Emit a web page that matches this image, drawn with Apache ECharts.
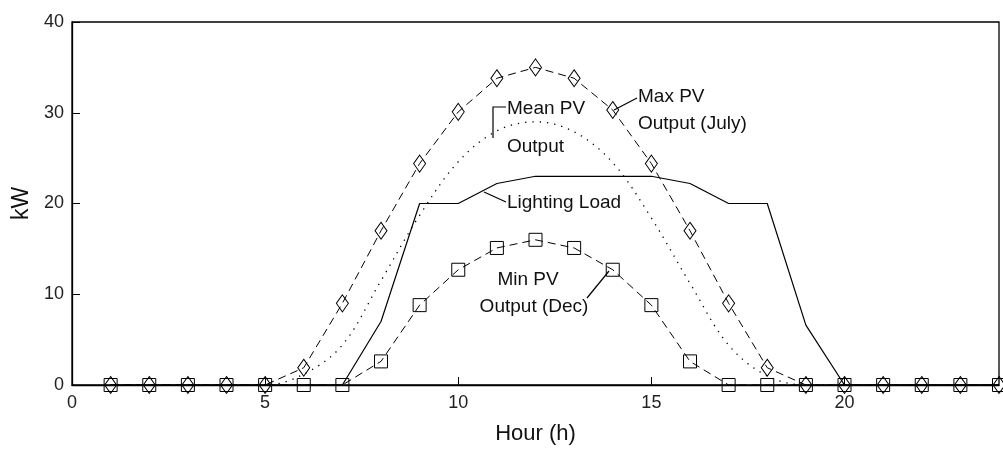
<!DOCTYPE html>
<html>
<head>
<meta charset="utf-8">
<script src="https://cdn.jsdelivr.net/npm/echarts/dist/echarts.min.js"></script>
<style>
html,body{margin:0;padding:0;background:#fff;}
#c{width:1003px;height:450px;}
</style>
</head>
<body>
<div id="c"></div>
<script>
// Hours of the day
var hours = [1,2,3,4,5,6,7,8,9,10,11,12,13,14,15,16,17,18,19,20,21,22,23,24];
// Max PV output (July), kW
var maxPV = [0,0,0,0,0,1.9,9.0,17.0,24.4,30.1,33.8,35.0,33.8,30.3,24.4,17.0,9.0,1.9,0,0,0,0,0,0];
// Mean PV output, kW
var meanPV = [0,0,0,0,0,1.2,4.4,11.5,18.7,24.6,28.0,29.0,27.9,24.5,18.4,11.2,4.4,1.0,0,0,0,0,0,0];
// Lighting load, kW
var lightLoad = [0,0,0,0,0,0,0,7.0,20,20,22.2,23,23,23,23,22.2,20,20,6.6,0,0,0,0,0];
// Min PV output (Dec), kW
var minPV = [0,0,0,0,0,0,0,2.6,8.8,12.7,15.1,16.0,15.1,12.7,8.8,2.6,0,0,0,0,0,0,0,0];
// Axis ticks
var xTicks = [0,5,10,15,20];
var yTicks = [0,10,20,30,40];

function pairs(vals){ return hours.map(function(h,i){ return [h, vals[i]]; }); }

var FONT = '"Liberation Sans", Arial, sans-serif';
var chart = echarts.init(document.getElementById('c'), null, {renderer:'canvas'});

var markerStyle = {color:'rgba(0,0,0,0)', borderColor:'#000', borderWidth:1};

var option = {
  animation:false,
  backgroundColor:'#fff',
  grid:{left:72, top:22, right:4, bottom:63, show:true, borderColor:'#000', borderWidth:1.3, containLabel:false},
  xAxis:{
    type:'value', min:xTicks[0], max:24, interval:xTicks[1]-xTicks[0],
    name:'Hour (h)', nameLocation:'middle', nameGap:38,
    nameTextStyle:{fontFamily:FONT, fontSize:22, color:'#111'},
    axisLine:{lineStyle:{color:'#000', width:1.3}},
    axisTick:{inside:true, length:8, lineStyle:{color:'#000'}},
    axisLabel:{fontFamily:FONT, fontSize:18, color:'#222', margin:9, showMaxLabel:false},
    splitLine:{show:false}
  },
  yAxis:{
    type:'value', min:yTicks[0], max:yTicks[yTicks.length-1], interval:yTicks[1]-yTicks[0],
    name:'kW', nameLocation:'middle', nameGap:37,
    nameTextStyle:{fontFamily:FONT, fontSize:23, color:'#111'},
    axisLine:{lineStyle:{color:'#000', width:1.3}},
    axisTick:{inside:true, length:8, lineStyle:{color:'#000'}},
    axisLabel:{fontFamily:FONT, fontSize:18, color:'#222', margin:8},
    splitLine:{show:false}
  },
  series:[
    {name:'Max PV Output (July)', type:'line', data:pairs(maxPV), symbol:'diamond', symbolSize:[12,17],
     showAllSymbol:true, lineStyle:{color:'#000', width:1, type:[8,5]}, itemStyle:markerStyle, silent:true, z:3},
    {name:'Mean PV Output', type:'line', data:pairs(meanPV), showSymbol:false, symbol:'none', smooth:0.35,
     lineStyle:{color:'#000', width:1.3, type:[1.3,6]}, silent:true, z:2},
    {name:'Lighting Load', type:'line', data:pairs(lightLoad), showSymbol:false, symbol:'none',
     lineStyle:{color:'#000', width:1.2, type:'solid'}, silent:true, z:2},
    {name:'Min PV Output (Dec)', type:'line', data:pairs(minPV), symbol:'rect', symbolSize:13,
     showAllSymbol:true, lineStyle:{color:'#000', width:1, type:[8,5]}, itemStyle:markerStyle, silent:true, z:3}
  ],
  graphic:[
    {type:'text', x:507, y:109, style:{text:'Mean PV', font:'19px '+FONT, fill:'#111', verticalAlign:'middle'}},
    {type:'text', x:507, y:147, style:{text:'Output', font:'19px '+FONT, fill:'#111', verticalAlign:'middle'}},
    {type:'polyline', shape:{points:[[493,138],[493,107],[506,107]]}, style:{stroke:'#000', lineWidth:1.2, fill:null}},
    {type:'text', x:638, y:97, style:{text:'Max PV', font:'19px '+FONT, fill:'#111', verticalAlign:'middle'}},
    {type:'text', x:638, y:124, style:{text:'Output (July)', font:'19px '+FONT, fill:'#111', verticalAlign:'middle'}},
    {type:'polyline', shape:{points:[[614,110],[637,98]]}, style:{stroke:'#000', lineWidth:1.2, fill:null}},
    {type:'text', x:507, y:203, style:{text:'Lighting Load', font:'19px '+FONT, fill:'#111', verticalAlign:'middle'}},
    {type:'polyline', shape:{points:[[484,192],[506,202]]}, style:{stroke:'#000', lineWidth:1.2, fill:null}},
    {type:'text', x:528, y:280, style:{text:'Min PV', font:'19px '+FONT, fill:'#111', verticalAlign:'middle', align:'center'}},
    {type:'text', x:534, y:307, style:{text:'Output (Dec)', font:'19px '+FONT, fill:'#111', verticalAlign:'middle', align:'center'}},
    {type:'polyline', shape:{points:[[609,271],[587,298]]}, style:{stroke:'#000', lineWidth:1.2, fill:null}}
  ]
};
chart.setOption(option);
</script>
</body>
</html>
